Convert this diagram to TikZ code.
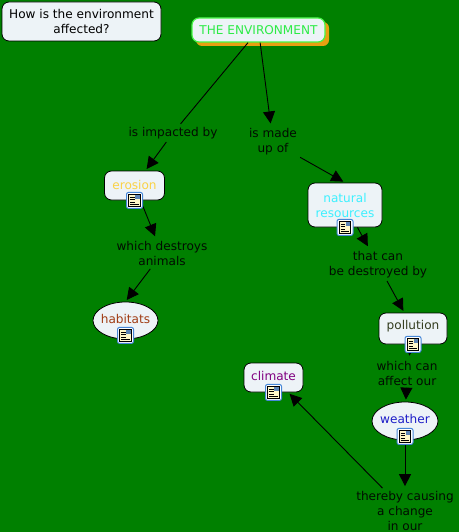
\documentclass[tikz,border=0pt]{standalone}
\usepackage{fontspec}
\setmainfont{DejaVu Sans}
\usetikzlibrary{arrows.meta}
\usetikzlibrary{shapes.geometric}

\definecolor{mapgreen}{RGB}{0,128,0}
\definecolor{boxfill}{RGB}{237,243,247}
\definecolor{envgreen}{RGB}{45,235,70}
\definecolor{envline}{RGB}{70,245,70}
\definecolor{envshadow}{RGB}{232,160,16}
\definecolor{erosioncol}{RGB}{250,210,70}
\definecolor{habitatcol}{RGB}{160,60,20}
\definecolor{naturalcol}{RGB}{60,240,255}
\definecolor{pollutioncol}{RGB}{50,60,30}
\definecolor{climatecol}{RGB}{128,0,128}
\definecolor{weathercol}{RGB}{30,30,200}
\definecolor{iconblue}{RGB}{70,135,215}
\definecolor{iconpaper}{RGB}{255,248,200}

\tikzset{
    concept/.style={draw=black, fill=boxfill, rounded corners=7pt, align=center, line width=0.8pt,
        inner sep=0pt, font=\fontsize{12.1}{15}\selectfont},
    oval/.style={draw=black, fill=boxfill, ellipse, align=center, line width=0.8pt,
        inner sep=0pt, inner xsep=-3pt, font=\fontsize{12.1}{15}\selectfont},
    linking/.style={align=center, inner sep=3pt, text=black!90!mapgreen,
        font=\fontsize{12.1}{15}\selectfont},
    link/.style={draw=black, line width=0.9pt},
    arrowlink/.style={link, -{Triangle[length=12pt,width=12pt]}, shorten >=2pt},
    docicon/.pic={
        \draw [draw=iconblue, fill=white, rounded corners=2pt, line width=1pt]
        (-8,-8) rectangle (8,8);
        \draw [draw=black, fill=iconpaper, line width=0.7pt] (-5.8,-6) rectangle (5.8,6);
        \fill [iconblue!60!gray] (0.5,-5.5) rectangle (5.3,-1);
        \foreach \yline in {-3.5,-1,1.5} {
            \draw [line width=0.8pt] (-4.3,\yline) -- (0,\yline);
        }
        \draw [line width=0.8pt] (-4.3,3.8) -- (4.3,3.8);
    },
}

\begin{document}
\begin{tikzpicture}[x=1pt, y=-1pt]
    \fill [mapgreen] (0,0) rectangle (459,532);
    \useasboundingbox (0,0) rectangle (459,532);

    \node [concept, minimum width=159pt, minimum height=39pt] (question) at (81.5,21.5)
    {How is the environment\\affected?};

    \fill [envshadow, rounded corners=6pt] (196,22) rectangle (329,46);

    \node [concept, draw=envline, text=envgreen, line width=1.2pt, minimum width=133pt, minimum height=24pt]
    (environment) at (258.5,30) {THE ENVIRONMENT};

    \node [concept, text=erosioncol, minimum width=60pt, minimum height=29pt, text depth=2pt] (erosion) at (134.5,185.5) {erosion};

    \node [oval, text=habitatcol, minimum width=65pt, minimum height=37pt, text depth=3pt] (habitats) at (125.5,320.5) {habitats};

    \node [concept, text=naturalcol, minimum width=74pt, minimum height=44pt] (natural) at (345,205)
    {natural\\resources};

    \node [concept, text=pollutioncol, minimum width=68pt, minimum height=31pt, text depth=7pt] (pollution) at (413,328.5) {pollution};

    \node [concept, text=climatecol, minimum width=59pt, minimum height=29pt, text depth=4pt] (climate) at (273.5,377.5) {climate};

    \node [oval, text=weathercol, minimum width=66pt, minimum height=38pt, text depth=4pt] (weather) at (405,421) {weather};

    \node [linking] (impacted) at (173,133) {is impacted by};

    \node [linking] (madeup) at (273,142) {is made\\up of};

    \node [linking] (destroys) at (162,253.5) {which destroys\\animals};

    \node [linking] (thatcan) at (378,264.5) {that can\\be destroyed by};

    \node [linking] (whichcan) at (407,373) {which can\\affect our};

    \node [linking] (thereby) at (405,511) {thereby causing\\a change\\in our};

    \draw [link] (environment) -- (impacted);

    \draw [arrowlink] (impacted) -- (erosion);

    \draw [arrowlink] (environment) -- (madeup);

    \draw [arrowlink] (madeup) -- (natural.north);

    \draw [arrowlink] (erosion) -- (destroys);

    \draw [arrowlink] (destroys) -- (habitats.north);

    \draw [arrowlink] (natural) -- (thatcan);

    \draw [arrowlink] (thatcan) -- (pollution);

    \draw [arrowlink] (pollution) -- (whichcan);

    \draw [arrowlink] (whichcan) -- (weather);

    \draw [arrowlink] (weather) -- (thereby);

    \draw [arrowlink] (thereby) -- (climate);

    % icons sit on top of the lines
    \pic at (erosion.south) {docicon};
    \pic at ([yshift=4pt]habitats.south) {docicon};
    \pic at (natural.south) {docicon};
    \pic at (pollution.south) {docicon};
    \pic at (climate.south) {docicon};
    \pic at ([yshift=4pt]weather.south) {docicon};

\end{tikzpicture}
\end{document}
